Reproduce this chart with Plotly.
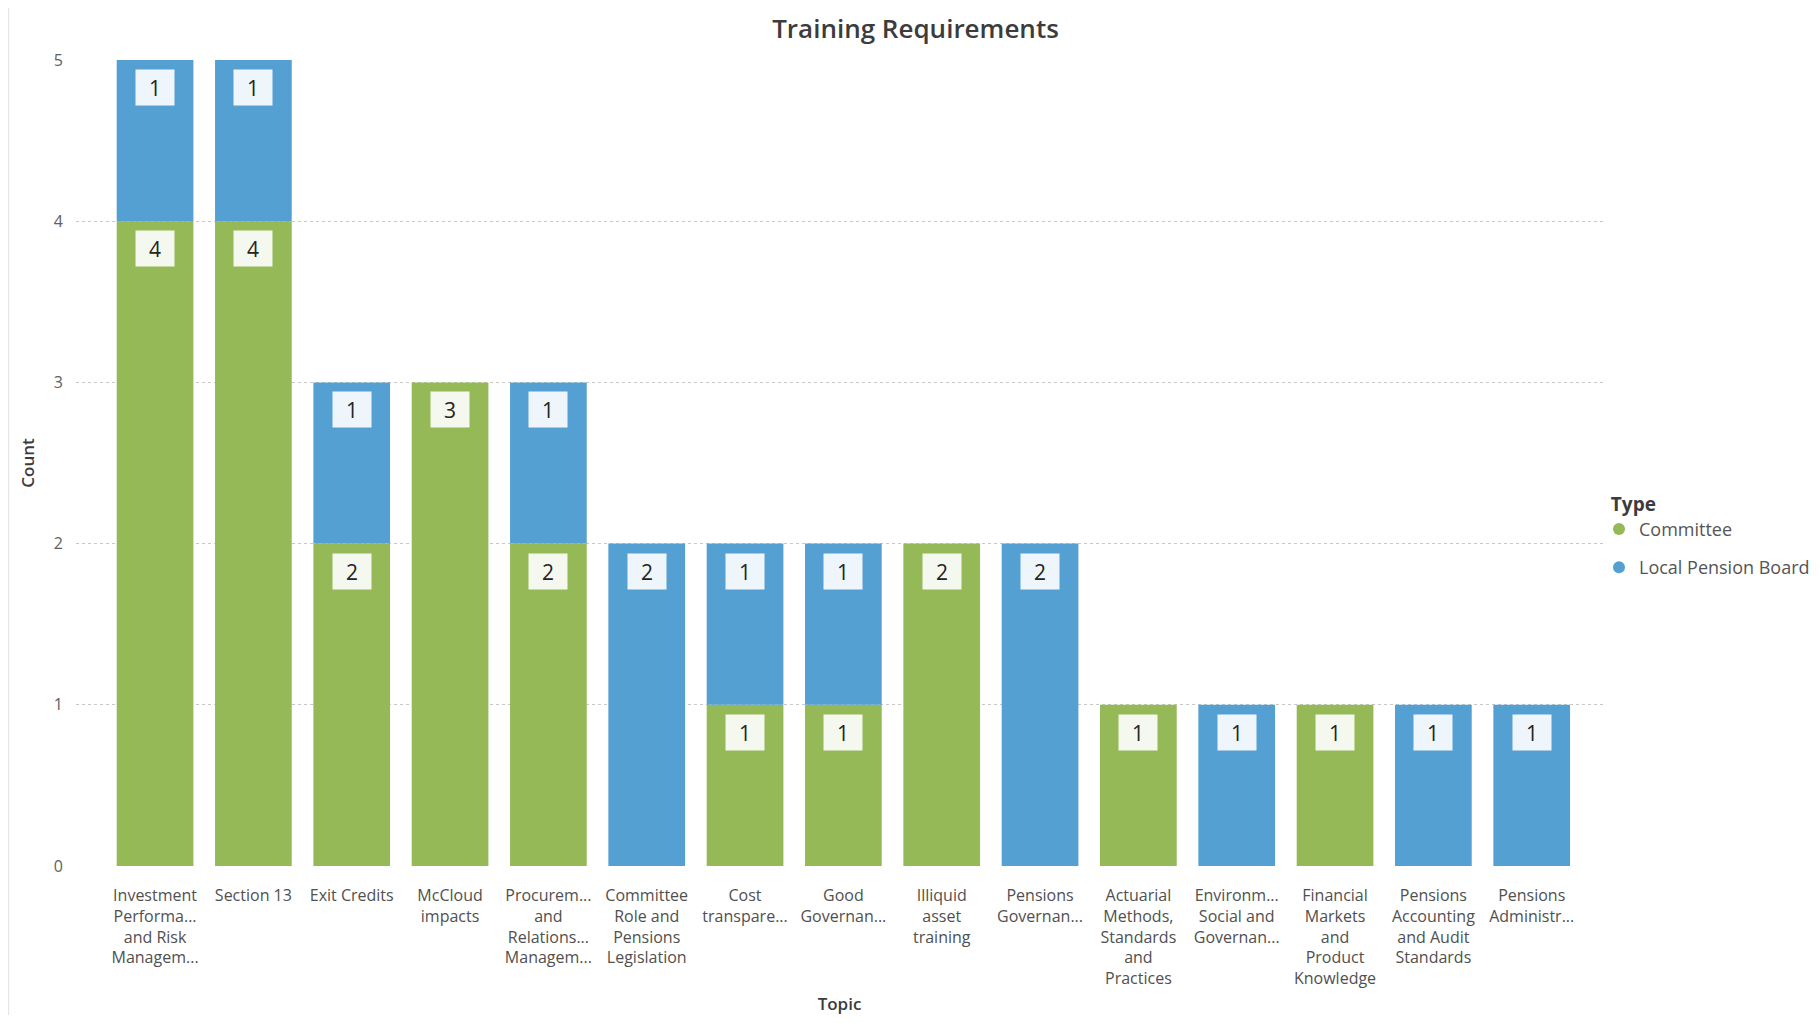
import plotly.graph_objects as go

topics = [
    "Investment<br>Performa...<br>and Risk<br>Managem...",
    "Section 13",
    "Exit Credits",
    "McCloud<br>impacts",
    "Procurem...<br>and<br>Relations...<br>Managem...",
    "Committee<br>Role and<br>Pensions<br>Legislation",
    "Cost<br>transpare...",
    "Good<br>Governan...",
    "Illiquid<br>asset<br>training",
    "Pensions<br>Governan...",
    "Actuarial<br>Methods,<br>Standards<br>and<br>Practices",
    "Environm...<br>Social and<br>Governan...",
    "Financial<br>Markets<br>and<br>Product<br>Knowledge",
    "Pensions<br>Accounting<br>and Audit<br>Standards",
    "Pensions<br>Administr...",
]
committee = [4, 4, 2, 3, 2, 0, 1, 1, 2, 0, 1, 0, 1, 0, 0]
local_board = [1, 1, 1, 0, 1, 2, 1, 1, 0, 2, 0, 1, 0, 1, 1]
y_ticks = [0, 1, 2, 3, 4, 5]

GREEN = "#94B956"
BLUE = "#55A0D3"
FONT = "Open Sans, Segoe UI, sans-serif"

# page has an 8px body margin; figure coordinates = page coordinates - 8
OFF = 8
W, H = 1819 - 2 * OFF, 1023 - 2 * OFF
L = 76 - OFF
T = 60 - OFF
plot_right = 1603 - OFF
plot_bottom = 866 - OFF
R = W - plot_right
B = H - plot_bottom
pw, ph = W - L - R, H - T - B

fig = go.Figure()
fig.add_trace(go.Bar(x=topics, y=committee, name="Committee", marker_color=GREEN,
                     marker_line_width=0, showlegend=False, hoverinfo="x+y+name"))
fig.add_trace(go.Bar(x=topics, y=local_board, name="Local Pension Board", marker_color=BLUE,
                     marker_line_width=0, showlegend=False, base=committee, hoverinfo="x+y+name"))
# legend entries with circle symbols
for name, col in [("Committee", GREEN), ("Local Pension Board", BLUE)]:
    fig.add_trace(go.Scatter(x=[None], y=[None], mode="markers", name=name,
                             legendgroup=name,
                             marker=dict(symbol="circle", size=12, color=col)))

annotations = []
for i, t in enumerate(topics):
    segs = [(committee[i], committee[i]), (local_board[i], committee[i] + local_board[i])]
    for val, top in segs:
        if val > 0:
            annotations.append(dict(
                x=t, y=top, xref="x", yref="y", text=str(val), showarrow=False,
                yanchor="top", yshift=-9, width=36, height=33,
                bgcolor="rgba(255,255,255,0.9)",
                font=dict(family=FONT, size=21, color="#252423"),
            ))

def px_x(p):  # page px -> paper
    return (p - OFF - L) / pw

def px_y(p):
    return (plot_bottom - (p - OFF)) / ph

shapes = [
    dict(type="line", xref="paper", yref="paper", x0=px_x(8.5), x1=px_x(8.5),
         y0=px_y(1023), y1=px_y(8), line=dict(color="#E6E6E6", width=1.5)),
]

n = len(topics)
fig.update_layout(
    width=W, height=H,
    margin=dict(l=L, r=R, t=T, b=B, autoexpand=False),
    paper_bgcolor="white", plot_bgcolor="white",
    barmode="overlay", bargap=0.22,
    title=dict(text="Training Requirements", x=(915.5 - OFF) / W, xref="container",
               y=1 - (28.5 - OFF) / H, yref="container", xanchor="center", yanchor="middle",
               font=dict(family=FONT, size=26, color="#3C3C3C", weight=600)),
    xaxis=dict(range=[-0.804, n - 1 + 0.725], showgrid=False, zeroline=False,
               showline=False, ticks="", tickangle=0,
               tickfont=dict(family=FONT, size=16, color="#505050"),
               ticklabelstandoff=18,
               title=dict(text="Topic", standoff=21,
                          font=dict(family=FONT, size=17, color="#3C3C3C", weight=600))),
    yaxis=dict(range=[0, 5], tickvals=y_ticks, showgrid=True, gridcolor="#C8C8C8",
               griddash="dot", gridwidth=1, zeroline=False, showline=False, ticks="",
               tickfont=dict(family=FONT, size=16, color="#606060"),
               ticklabelstandoff=12,
               title=dict(text="Count", standoff=14,
                          font=dict(family=FONT, size=17, color="#3C3C3C", weight=600))),
    legend=dict(x=px_x(1599), xanchor="left", y=px_y(486), yanchor="top",
                title=dict(text="&nbsp;&nbsp;Type",
                           font=dict(family=FONT, size=19, color="#3C3C3C", weight=700)),
                font=dict(family=FONT, size=18, color="#555555"),
                tracegroupgap=12, itemwidth=30, bgcolor="rgba(0,0,0,0)"),
    annotations=annotations,
    shapes=shapes,
)

fig.write_html("out.html")
